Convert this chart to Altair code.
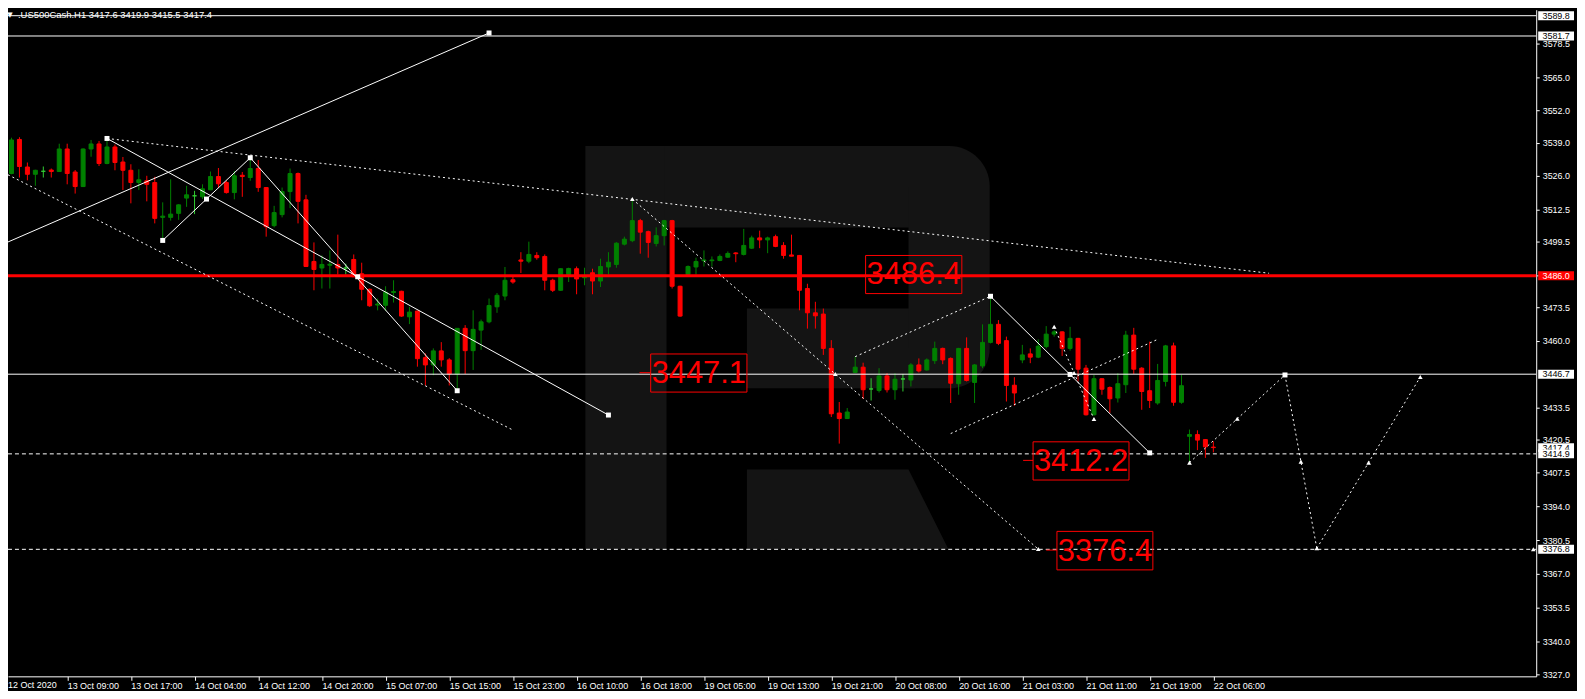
import altair as alt
import pandas as pd

# ---------------- data ----------------
TITLE = ".US500Cash.H1  3417.6 3419.9 3415.5 3417.4"

OPEN = [3516.6, 3526.8, 3540.4, 3529.4, 3526.5, 3527.7, 3528.2, 3527.6, 3536.6, 3527.4,
        3521.6, 3536.6, 3538.6, 3530.8, 3537.4, 3531.4, 3528.1, 3523.2, 3523.9, 3523.2,
        3509.3, 3509.3, 3510.9, 3517.0, 3517.9, 3517.5, 3520.3, 3525.6, 3523.2, 3519.2,
        3526.1, 3525.2, 3528.8, 3521.2, 3506.0, 3510.4, 3519.6, 3526.8, 3516.3, 3491.7,
        3489.1, 3490.2, 3490.5, 3489.1, 3492.5, 3486.8, 3480.6, 3474.3, 3474.2, 3479.3,
        3479.8, 3469.6, 3471.9, 3453.3, 3450.4, 3456.0, 3452.4, 3446.8, 3465.0, 3456.1,
        3464.3, 3467.6, 3473.6, 3477.9, 3484.4, 3492.3, 3491.8, 3494.1, 3493.7, 3484.2,
        3480.2, 3486.5, 3488.8, 3485.2, 3487.2, 3483.9, 3489.5, 3490.5, 3498.6, 3500.0,
        3508.0, 3503.6, 3498.9, 3502.0, 3508.0, 3481.8, 3486.5, 3489.5, 3492.0, 3492.0,
        3492.1, 3493.4, 3495.1, 3494.5, 3497.0, 3501.1, 3500.3, 3501.6, 3498.1, 3494.3,
        3494.1, 3480.9, 3471.2, 3470.7, 3457.0, 3431.2, 3429.0, 3447.4, 3449.5, 3440.8,
        3440.2, 3446.0, 3440.5, 3444.8, 3444.4, 3450.4, 3448.4, 3452.1, 3457.0, 3453.0,
        3442.9, 3457.0, 3443.4, 3450.0, 3459.4, 3466.6, 3460.1, 3442.3, 3452.4, 3454.8,
        3453.5, 3457.7, 3462.7, 3463.6, 3457.0, 3461.0, 3449.1, 3430.5, 3444.9, 3441.4,
        3437.2, 3442.5, 3462.3, 3449.1, 3440.1, 3435.2, 3443.8, 3458.0, 3435.5, 3421.9,
        3422.6, 3420.6, 3417.6]
HIGH = [3530.0, 3541.1, 3541.3, 3531.2, 3528.3, 3529.6, 3528.8, 3538.7, 3538.7, 3528.2,
        3536.8, 3540.2, 3539.8, 3540.8, 3538.4, 3533.4, 3530.5, 3528.5, 3525.9, 3525.5,
        3515.3, 3524.5, 3514.5, 3521.9, 3519.9, 3522.5, 3527.6, 3529.0, 3523.9, 3527.8,
        3527.4, 3533.1, 3532.2, 3521.4, 3513.9, 3521.2, 3528.8, 3527.2, 3518.3, 3499.3,
        3494.1, 3496.1, 3502.4, 3490.8, 3494.5, 3491.2, 3480.9, 3476.9, 3481.8, 3484.2,
        3480.0, 3473.6, 3472.0, 3455.0, 3457.0, 3459.5, 3453.1, 3465.1, 3466.3, 3472.2,
        3468.5, 3476.9, 3479.1, 3489.5, 3485.5, 3495.4, 3499.6, 3495.4, 3494.5, 3484.8,
        3489.0, 3489.2, 3489.7, 3489.2, 3488.8, 3492.8, 3495.4, 3499.4, 3501.6, 3516.6,
        3508.7, 3504.0, 3505.3, 3508.3, 3508.3, 3482.0, 3490.1, 3493.2, 3496.1, 3493.7,
        3494.5, 3495.7, 3495.4, 3504.7, 3502.0, 3504.0, 3501.6, 3502.4, 3499.4, 3502.4,
        3494.3, 3482.8, 3475.6, 3472.9, 3460.3, 3435.6, 3433.2, 3453.7, 3451.3, 3445.1,
        3449.1, 3447.1, 3447.1, 3446.8, 3451.1, 3453.0, 3453.0, 3459.7, 3457.3, 3453.4,
        3457.2, 3461.4, 3450.7, 3466.6, 3478.2, 3468.3, 3461.7, 3445.5, 3458.4, 3457.0,
        3460.6, 3465.9, 3464.3, 3463.8, 3465.6, 3461.2, 3450.4, 3446.4, 3445.1, 3441.8,
        3447.1, 3464.0, 3465.2, 3449.5, 3459.7, 3450.8, 3458.4, 3459.3, 3446.4, 3424.6,
        3424.3, 3420.8, 3419.9]
LOW = [3516.0, 3526.5, 3525.2, 3524.1, 3521.9, 3525.2, 3525.2, 3527.5, 3522.5, 3518.8,
       3521.4, 3533.5, 3529.8, 3530.5, 3528.1, 3520.2, 3514.9, 3520.2, 3515.7, 3506.9,
       3500.7, 3508.0, 3508.3, 3513.5, 3510.6, 3516.6, 3520.2, 3521.0, 3518.8, 3516.5,
       3517.5, 3523.9, 3519.5, 3501.6, 3505.3, 3509.3, 3513.0, 3506.9, 3489.5, 3480.2,
       3480.9, 3480.9, 3486.5, 3486.5, 3485.5, 3476.2, 3473.6, 3472.2, 3472.0, 3475.3,
       3469.6, 3466.7, 3449.7, 3442.2, 3446.3, 3449.7, 3442.2, 3439.8, 3446.8, 3448.4,
       3456.4, 3467.0, 3471.2, 3476.2, 3482.8, 3487.1, 3491.0, 3492.4, 3480.2, 3479.5,
       3480.0, 3483.5, 3478.6, 3482.2, 3478.6, 3481.5, 3486.5, 3489.2, 3498.1, 3499.4,
       3494.8, 3493.2, 3497.7, 3498.1, 3480.9, 3469.6, 3486.1, 3486.5, 3489.7, 3489.7,
       3491.8, 3493.2, 3491.4, 3494.1, 3496.7, 3497.0, 3495.0, 3497.4, 3492.8, 3493.7,
       3472.2, 3464.9, 3464.9, 3454.4, 3429.6, 3419.0, 3428.8, 3447.1, 3436.8, 3436.2,
       3439.4, 3439.4, 3436.5, 3439.8, 3441.8, 3447.4, 3448.1, 3450.8, 3450.7, 3435.2,
       3438.5, 3443.8, 3435.2, 3449.1, 3459.0, 3458.3, 3435.8, 3434.1, 3451.1, 3451.1,
       3453.1, 3457.0, 3461.7, 3454.0, 3456.1, 3443.8, 3430.2, 3430.2, 3438.5, 3431.2,
       3435.4, 3439.2, 3446.8, 3432.5, 3433.2, 3434.5, 3441.8, 3434.1, 3434.9, 3411.6,
       3416.4, 3413.3, 3415.5]
CLOSE = [3525.0, 3540.2, 3529.6, 3526.5, 3528.1, 3527.7, 3527.6, 3536.6, 3526.8, 3521.6,
         3536.6, 3538.6, 3530.8, 3537.4, 3531.2, 3528.1, 3523.2, 3524.3, 3522.5, 3508.9,
         3509.8, 3510.6, 3514.3, 3518.3, 3517.9, 3520.7, 3525.6, 3522.7, 3519.2, 3525.9,
         3525.6, 3528.8, 3521.2, 3505.6, 3511.2, 3519.6, 3526.8, 3515.7, 3489.7, 3488.5,
         3490.5, 3490.6, 3489.1, 3489.1, 3485.6, 3480.6, 3474.0, 3474.7, 3479.4, 3479.7,
         3469.9, 3471.5, 3452.9, 3450.4, 3456.0, 3452.4, 3446.8, 3465.0, 3456.1, 3464.6,
         3467.6, 3474.1, 3478.2, 3484.2, 3483.5, 3491.8, 3494.5, 3493.2, 3484.2, 3480.2,
         3488.8, 3488.9, 3484.7, 3486.1, 3483.9, 3489.7, 3491.4, 3499.0, 3500.6, 3508.0,
         3503.4, 3499.3, 3502.0, 3508.0, 3481.8, 3469.9, 3489.7, 3491.7, 3492.3, 3492.3,
         3493.7, 3494.9, 3494.8, 3498.1, 3501.1, 3500.3, 3501.1, 3497.7, 3494.1, 3493.8,
         3480.2, 3471.2, 3470.0, 3457.0, 3430.9, 3429.0, 3431.6, 3449.5, 3440.5, 3440.8,
         3446.0, 3440.5, 3444.7, 3444.8, 3450.4, 3448.0, 3452.4, 3457.0, 3452.4, 3443.1,
         3457.0, 3444.2, 3450.4, 3459.4, 3466.6, 3459.0, 3442.2, 3439.2, 3454.4, 3453.5,
         3457.9, 3462.7, 3463.6, 3457.0, 3461.0, 3448.7, 3430.5, 3444.9, 3440.7, 3436.9,
         3442.9, 3462.3, 3448.7, 3439.8, 3436.2, 3444.2, 3458.0, 3435.5, 3442.1, 3422.6,
         3420.4, 3417.7, 3417.4]

X_LABELS = ["12 Oct 2020", "13 Oct 09:00", "13 Oct 17:00", "14 Oct 04:00", "14 Oct 12:00",
            "14 Oct 20:00", "15 Oct 07:00", "15 Oct 15:00", "15 Oct 23:00", "16 Oct 10:00",
            "16 Oct 18:00", "19 Oct 05:00", "19 Oct 13:00", "19 Oct 21:00", "20 Oct 08:00",
            "20 Oct 16:00", "21 Oct 03:00", "21 Oct 11:00", "21 Oct 19:00", "22 Oct 06:00"]
LABEL_STEP = 8  # bars between time labels

Y_TICKS = [3578.5, 3565.0, 3552.0, 3539.0, 3526.0, 3512.5, 3499.5, 3486.0, 3473.5, 3460.0,
           3433.5, 3420.5, 3407.5, 3394.0, 3380.5, 3367.0, 3353.5, 3340.0, 3327.0]

# horizontal levels
WHITE_LEVELS = [3589.8, 3581.7, 3446.7]
RED_LEVEL = [3486.0]
DASHED_LEVELS = [3414.9, 3376.8]
AXIS_TAGS_WHITE = [3589.8, 3581.7, 3446.7, 3417.4, 3414.9, 3376.8]
AXIS_TAGS_RED = [3486.0]

# trend lines (bar index, price)
SOLID_X1 = [0, 13, 20, 31, 124]
SOLID_P1 = [3498.7, 3540.8, 3500.1, 3533.1, 3477.8]
SOLID_X2 = [61, 76, 31, 57, 144]
SOLID_P2 = [3582.9, 3430.4, 3533.1, 3440.1, 3415.3]

DOT_X1 = [13, 0, 79, 107, 119, 132, 149, 161, 165]
DOT_P1 = [3540.8, 3527.2, 3516.6, 3453.7, 3423.0, 3465.6, 3411.4, 3446.4, 3377.2]
DOT_X2 = [159, 64, 130, 124, 145, 137, 161, 165, 178]
DOT_P2 = [3487.0, 3424.4, 3376.9, 3477.8, 3460.6, 3428.8, 3446.4, 3377.2, 3445.6]

SQUARE_X = [61, 13, 20, 25.5, 31, 44.5, 57, 76, 124, 134, 144, 161]
SQUARE_P = [3582.9, 3540.8, 3500.1, 3516.6, 3533.1, 3485.6, 3440.1, 3430.4, 3477.8, 3446.6, 3415.3, 3446.4]
ARROW_X = [79, 104.5, 130, 132, 134.5, 137, 149, 155, 163, 165, 171.5, 178, 192.2]
ARROW_P = [3516.6, 3446.8, 3376.9, 3465.6, 3447.2, 3428.8, 3411.4, 3428.9, 3411.8, 3377.2, 3411.4, 3445.6, 3376.8]

# boxed price texts
BOX_TEXT = ["3486.4", "3447.1", "3412.2", "3376.4"]
BOX_X1 = [108.31, 81.31, 129.35, 132.35]
BOX_X2 = [120.40, 93.40, 141.40, 144.40]
BOX_PTOP = [3494.09, 3454.77, 3419.71, 3383.96]
BOX_PBOT = [3478.88, 3439.56, 3404.46, 3368.59]
ANCHOR_X1 = [79.9, 128.1, 131.0]
ANCHOR_X2 = [81.3, 129.35, 132.35]
ANCHOR_P = [3447.3, 3412.3, 3376.5]

# watermark "R" (bar index / price units)
LOGO_X1 = [73.1, 83.0, 93.4]
LOGO_X2 = [83.3, 114.5, 114.5]
LOGO_PT = [3537.8, 3537.8, 3472.9]
LOGO_PB = [3376.9, 3505.3, 3441.1]
LOGO_ROUND = [113.7, 123.9, 3537.8, 3441.1]
LEG_X = [93.4, 113.7, 118.7]
LEG_PT = [3408.7, 3408.7, 3376.9]
LEG_PB = [3376.9, 3376.9, 3376.9]

# ---------------- styling ----------------
X_MIN, X_MAX = 0.5625, 192.5625
Y_MIN, Y_MAX = 3326.10, 3592.18
W, H = 1536, 670
GREEN, RED, LIME, WHITE, LOGO = "#008000", "#ff0000", "#32cd32", "#ffffff", "#141414"
FONT = "Liberation Sans"

xs = alt.Scale(domain=[X_MIN, X_MAX], nice=False, zero=False)
ys = alt.Scale(domain=[Y_MIN, Y_MAX], nice=False, zero=False)

label_arr = "[" + ",".join("'" + s + "'" for s in X_LABELS) + "]"
x_axis = alt.Axis(values=list(range(LABEL_STEP, LABEL_STEP * len(X_LABELS), LABEL_STEP)),
                  labelExpr=label_arr + "[round(datum.value / %d)]" % LABEL_STEP,
                  orient="bottom", labelAlign="left", labelBaseline="top", labelPadding=1,
                  tickSize=4, tickColor=WHITE, domainColor=WHITE, labelColor=WHITE,
                  labelFont=FONT, labelFontSize=9, grid=False, title=None,
                  labelOverlap=False, labelFlush=False, labelBound=False)
y_axis = alt.Axis(values=Y_TICKS, format=".1f", orient="right", tickSize=3, labelPadding=3,
                  tickColor=WHITE, domainColor=WHITE, labelColor=WHITE, labelFont=FONT,
                  labelFontSize=9, grid=False, title=None, labelOverlap=False,
                  labelFlush=False, labelBound=False)


def X(field):
    return alt.X(field, type="quantitative", scale=xs, axis=x_axis, title=None)


def Y(field):
    return alt.Y(field, type="quantitative", scale=ys, axis=y_axis, title=None)


n = len(OPEN)
candles = pd.DataFrame({"i": list(range(n)), "o": OPEN, "h": HIGH, "l": LOW, "c": CLOSE})
candles["dir"] = ["up" if c > o else ("down" if c < o else "flat") for o, c in zip(OPEN, CLOSE)]
dir_scale = alt.Scale(domain=["up", "down", "flat"], range=[GREEN, RED, LIME])

# watermark
logo_df = pd.DataFrame({"x1": LOGO_X1, "x2": LOGO_X2, "pt": LOGO_PT, "pb": LOGO_PB})
logo_rects = alt.Chart(logo_df).mark_rect(color=LOGO).encode(
    x=X("x1"), x2="x2", y=Y("pt"), y2="pb")
round_df = pd.DataFrame({"x1": [LOGO_ROUND[0]], "x2": [LOGO_ROUND[1]],
                         "pt": [LOGO_ROUND[2]], "pb": [LOGO_ROUND[3]]})
logo_round = alt.Chart(round_df).mark_rect(color=LOGO, cornerRadiusTopRight=76,
                                           cornerRadiusBottomRight=76).encode(
    x=X("x1"), x2="x2", y=Y("pt"), y2="pb")
leg_df = pd.DataFrame({"x": LEG_X, "pt": LEG_PT, "pb": LEG_PB})
logo_leg = alt.Chart(leg_df).mark_area(color=LOGO, opacity=1).encode(
    x=X("x"), y=Y("pt"), y2="pb")

# candles
wicks = alt.Chart(candles).mark_rule(strokeWidth=1).encode(
    x=X("i"), y=Y("l"), y2="h",
    color=alt.Color("dir:N", scale=dir_scale, legend=None))
bodies = alt.Chart(candles).transform_calculate(
    x0="datum.i - 0.25", x1="datum.i + 0.25").mark_rect(strokeWidth=1).encode(
    x=X("x0"), x2="x1:Q", y=Y("o"), y2="c:Q",
    color=alt.Color("dir:N", scale=dir_scale, legend=None),
    stroke=alt.Stroke("dir:N", scale=dir_scale, legend=None))


def level_layer(levels, color, width, dash=None):
    df = pd.DataFrame({"p": levels, "xa": X_MIN, "xb": X_MAX})
    kw = dict(color=color, strokeWidth=width)
    if dash:
        kw["strokeDash"] = dash
    return alt.Chart(df).mark_rule(**kw).encode(x=X("xa"), x2="xb", y=Y("p"))


lv_white = level_layer(WHITE_LEVELS, WHITE, 1)
lv_red = level_layer(RED_LEVEL, RED, 3)
lv_dash = level_layer(DASHED_LEVELS, WHITE, 1, [4, 3])


def seg_layer(x1, p1, x2, p2, dash=None):
    df = pd.DataFrame({"x1": x1, "p1": p1, "x2": x2, "p2": p2})
    kw = dict(color=WHITE, strokeWidth=1)
    if dash:
        kw["strokeDash"] = dash
    return alt.Chart(df).mark_rule(**kw).encode(x=X("x1"), x2="x2", y=Y("p1"), y2="p2")


solid_lines = seg_layer(SOLID_X1, SOLID_P1, SOLID_X2, SOLID_P2)
dotted_lines = seg_layer(DOT_X1, DOT_P1, DOT_X2, DOT_P2, [2, 3])

squares = alt.Chart(pd.DataFrame({"x": SQUARE_X, "p": SQUARE_P})).mark_point(
    shape="square", filled=True, size=25, color=WHITE, opacity=1).encode(x=X("x"), y=Y("p"))
arrows = alt.Chart(pd.DataFrame({"x": ARROW_X, "p": ARROW_P})).mark_point(
    shape="triangle-up", filled=True, size=22, color=WHITE, opacity=1).encode(x=X("x"), y=Y("p"))

# boxed texts
box_df = pd.DataFrame({"t": BOX_TEXT, "x1": BOX_X1, "x2": BOX_X2, "pt": BOX_PTOP, "pb": BOX_PBOT})
boxes = alt.Chart(box_df).mark_rect(fillOpacity=0, stroke=RED, strokeWidth=1).encode(
    x=X("x1"), x2="x2", y=Y("pt"), y2="pb")
box_text = alt.Chart(box_df).transform_calculate(
    xc="(datum.x1 + datum.x2) / 2", pc="(datum.pt + datum.pb) / 2").mark_text(
    font=FONT, fontSize=31, color=RED, align="center", baseline="middle", dy=1).encode(
    x=X("xc"), y=Y("pc"), text="t:N")
anchors = alt.Chart(pd.DataFrame({"x1": ANCHOR_X1, "x2": ANCHOR_X2, "p": ANCHOR_P})).mark_rule(
    color=RED, strokeWidth=1).encode(x=X("x1"), x2="x2", y=Y("p"))

# price tags on the axis
TAG_SHAPE = "M -1 -0.25 H 1 V 0.25 H -1 Z"


def tag_layer(levels, bg, fg):
    df = pd.DataFrame({"p": levels})
    box = alt.Chart(df).mark_point(shape=TAG_SHAPE, filled=True, size=1296,
                                   color=bg, opacity=1).encode(x=alt.value(1556), y=Y("p"))
    txt = alt.Chart(df).mark_text(font=FONT, fontSize=9, color=fg, align="center",
                                  baseline="middle").encode(
        x=alt.value(1556), y=Y("p"), text=alt.Text("p:Q", format=".1f"))
    return box, txt


tags = []
for lv in AXIS_TAGS_WHITE:
    tags.extend(tag_layer([lv], WHITE, "#000000"))
tags.extend(tag_layer(AXIS_TAGS_RED, RED, WHITE))

# first time label (its tick lies left of the visible range)
first_label = alt.Chart(pd.DataFrame({"x": [X_MIN], "t": [X_LABELS[0]]})).mark_text(
    font=FONT, fontSize=9, color=WHITE, align="left", baseline="top").encode(
    x=X("x"), y=alt.value(H + 5), text="t:N")

title = alt.Chart(pd.DataFrame({"t": [TITLE]})).mark_text(
    font=FONT, fontSize=9.5, color=WHITE, align="left", baseline="alphabetic").encode(
    x=alt.value(10), y=alt.value(8), text="t:N")
tri = alt.Chart(pd.DataFrame({"t": ["\u25BC"]})).mark_text(
    font="DejaVu Sans", fontSize=7, color=WHITE, align="center", baseline="alphabetic").encode(
    x=alt.value(2), y=alt.value(7), text="t:N")

chart = alt.layer(
    logo_rects, logo_round, logo_leg,
    wicks, bodies,
    lv_white, lv_red, lv_dash,
    solid_lines, dotted_lines, squares, arrows,
    boxes, box_text, anchors,
    *tags, first_label, title, tri
).properties(
    width=W, height=H,
    padding={"left": 0, "top": 0, "right": 41, "bottom": 13},
    autosize=alt.AutoSizeParams(type="none"),
    background="#000000",
).configure_view(strokeWidth=0)

chart.save("out.html", embed_options={"renderer": "svg", "actions": False})
